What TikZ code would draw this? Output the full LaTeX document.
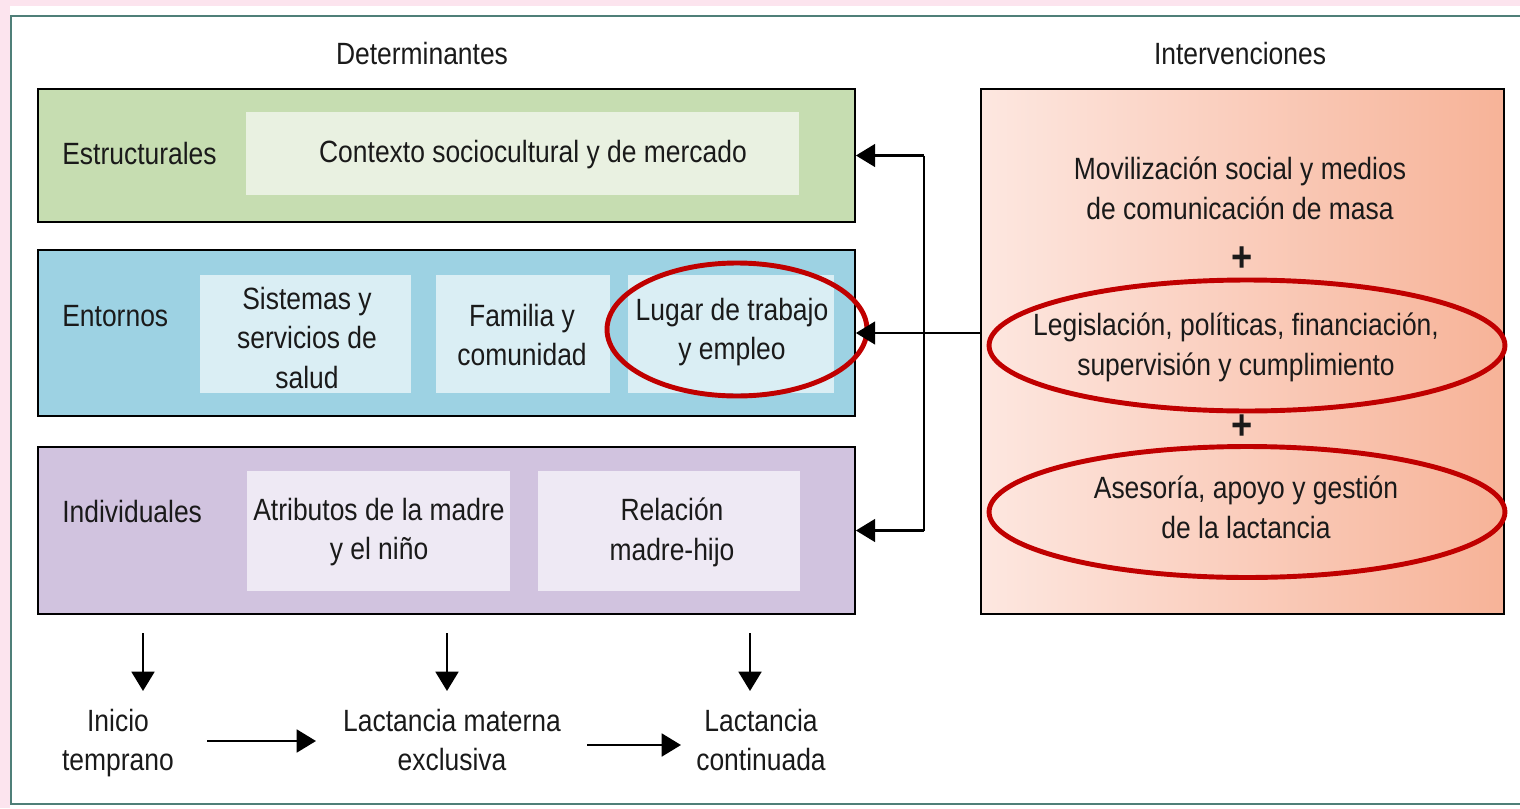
\documentclass[tikz,border=0pt]{standalone}
\usepackage{fontspec}
\setmainfont{Liberation Sans}[FakeStretch=0.86]
\usetikzlibrary{arrows.meta,shapes.geometric}
\definecolor{pinkbg}{HTML}{FCE4EE}
\definecolor{framec}{HTML}{4F7F78}
\definecolor{txt}{HTML}{1A1A1A}
\definecolor{greenA}{HTML}{C6DDB1}
\definecolor{greenB}{HTML}{E9F1E1}
\definecolor{blueA}{HTML}{9DD2E3}
\definecolor{blueB}{HTML}{DAEEF4}
\definecolor{purA}{HTML}{D1C3DF}
\definecolor{purB}{HTML}{EEE9F4}
\definecolor{salL}{HTML}{FDE7E0}
\definecolor{salR}{HTML}{F7B398}
\definecolor{ringc}{HTML}{C00000}
\tikzset{
  every node/.style={text=txt,font=\fontsize{17.5}{22.7}\selectfont,inner sep=0pt},
  outerbox/.style={draw=black,line width=1.1pt,minimum width=16.34cm},
  innerbox/.style={draw=none,align=center},
  lbl/.style={anchor=west},
  txtc/.style={align=center},
  plus/.style={font=\fontsize{24}{24}\selectfont\bfseries},
  arr/.style={line width=1.4pt,-{Triangle[length=11pt,width=13pt]}},
  ring/.style={ellipse,draw=ringc,line width=2.8pt}
}
\begin{document}
\begin{tikzpicture}[x=0.02cm,y=-0.02cm]
\useasboundingbox (0,0) rectangle (1520,808);
% background
\fill[pinkbg] (0,0) rectangle (1520,808);
\fill[white] (10,6) rectangle (1520,808);
\draw[framec,line width=0.9pt] (1530,16) -- (11,16) -- (11,804) -- (1530,804);
% titles
\node (tdet) at (422,54) {Determinantes};
\node (tint) at (1240,54) {Intervenciones};
% structural
\node[outerbox,fill=greenA,minimum height=2.66cm] (green) at (446.5,155.5) {};
\node[innerbox,fill=greenB,minimum width=11.06cm,minimum height=1.66cm] (ctx) at (522.5,153.5) {};
\node (ctxt) at (533,155) {Contexto sociocultural y de mercado};
\node[lbl] (lest) at (62,154) {Estructurales};
% environments
\node[outerbox,fill=blueA,minimum height=3.32cm] (blue) at (446.5,333) {};
\node[innerbox,fill=blueB,minimum width=4.22cm,minimum height=2.36cm] (sis) at (305.5,334) {};
\node[txtc] (sist) at (307,338) {Sistemas y\\servicios de\\salud};
\node[innerbox,fill=blueB,minimum width=3.48cm,minimum height=2.36cm] (fam) at (523,334) {};
\node[txtc] (famt) at (522,335) {Familia y\\comunidad};
\node[innerbox,fill=blueB,minimum width=4.12cm,minimum height=2.36cm] (lug) at (731,334) {};
\node[txtc] (lugt) at (732,332) {Lugar de trabajo\\y empleo};
\node[lbl] (lent) at (62,316) {Entornos};
% individual
\node[outerbox,fill=purA,minimum height=3.34cm] (pur) at (446.5,530.5) {};
\node[innerbox,fill=purB,minimum width=5.26cm,minimum height=2.4cm] (atr) at (378.5,531) {};
\node[txtc] (atrt) at (379,532) {Atributos de la madre\\y el niño};
\node[innerbox,fill=purB,minimum width=5.24cm,minimum height=2.4cm] (rel) at (669,531) {};
\node[txtc] (relt) at (672,532) {Relación\\madre-hijo};
\node[lbl] (lind) at (62,512) {Individuales};
% interventions
\node[draw=black,line width=1.1pt,left color=salL,right color=salR,minimum width=10.46cm,minimum height=10.5cm] (rb) at (1242.5,351.5) {};
\node[txtc] (mov) at (1240,188) {Movilización social y medios\\de comunicación de masa};
\node[plus] (p1) at (1242,259) {+};
\node[txtc] (leg) at (1236,347) {Legislación, políticas, financiación,\\supervisión y cumplimiento};
\node[plus] (p2) at (1242,427) {+};
\node[txtc] (ase) at (1246,507) {Asesoría, apoyo y gestión\\de la lactancia};
% rings
\node[ring,minimum width=5.2cm,minimum height=2.66cm] (r1) at (737,329.5) {};
\node[ring,minimum width=10.32cm,minimum height=2.62cm] (r2) at (1247,345.5) {};
\node[ring,minimum width=10.32cm,minimum height=2.62cm] (r3) at (1247,512) {};
% connectors
\coordinate (jx) at (924,335);
\draw[arr] (rb.west |- blue.east) -- (blue.east);
\draw[line width=1.4pt] (jx |- green.east) -- (jx |- pur.east);
\draw[arr] (jx |- green.east) -- (green.east);
\draw[arr] (jx |- pur.east) -- (pur.east);
% outcomes
\node[txtc] (ini) at (118,743) {Inicio\\temprano};
\node[txtc] (lme) at (452,740) {Lactancia materna\\exclusiva};
\node[txtc] (lc) at (761,740) {Lactancia\\continuada};
\coordinate (d1s) at (143,633); \coordinate (d1e) at (143,691);
\coordinate (d2s) at (447,633); \coordinate (d2e) at (447,691);
\coordinate (d3s) at (750,633); \coordinate (d3e) at (750,691);
\draw[arr] (d1s) -- (d1e);
\draw[arr] (d2s) -- (d2e);
\draw[arr] (d3s) -- (d3e);
\coordinate (h1s) at (207,741); \coordinate (h1e) at (316,741);
\coordinate (h2s) at (587,745); \coordinate (h2e) at (681,745);
\draw[arr] (h1s) -- (h1e);
\draw[arr] (h2s) -- (h2e);
\end{tikzpicture}
\end{document}
